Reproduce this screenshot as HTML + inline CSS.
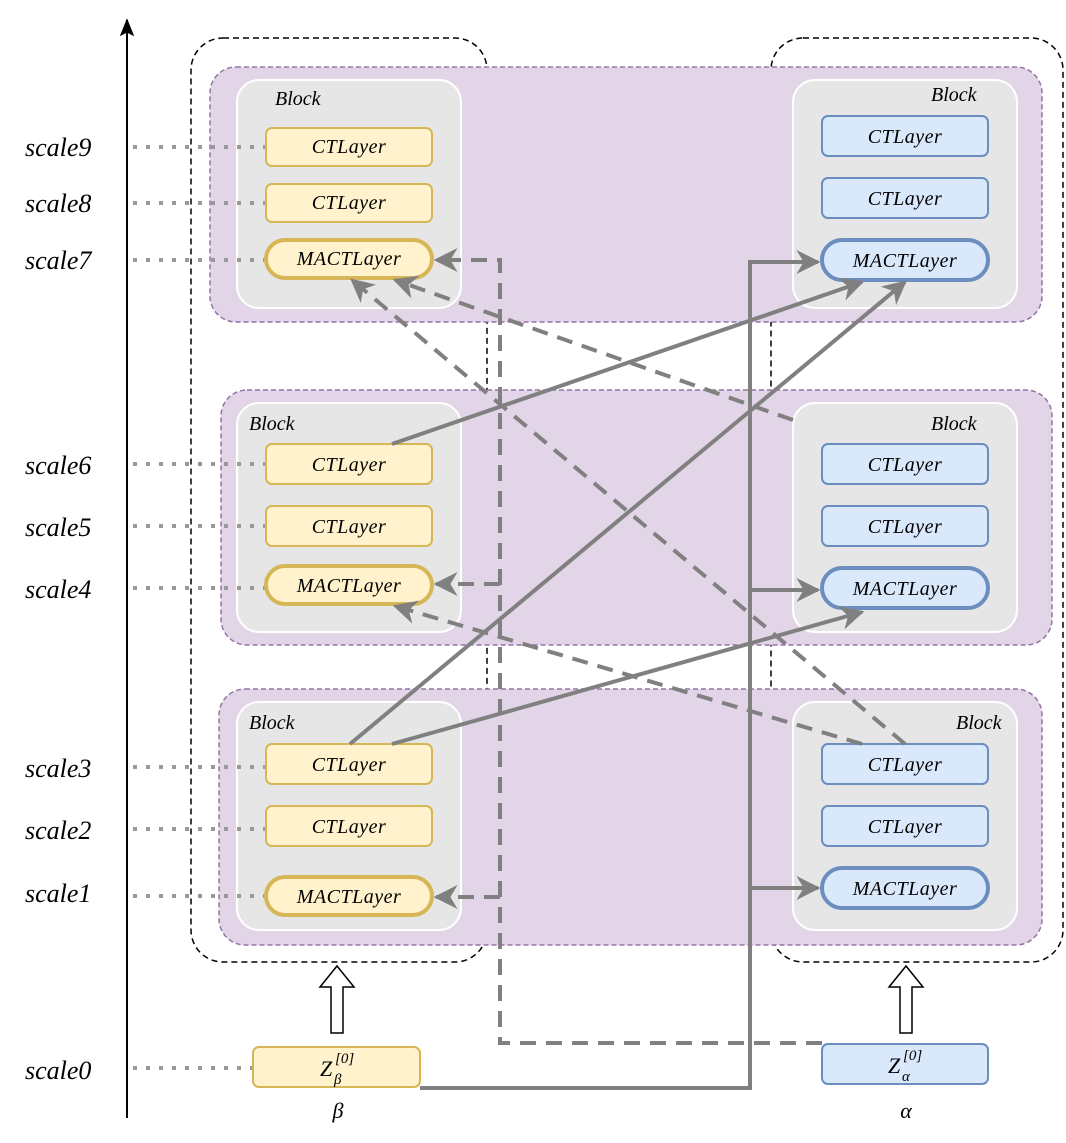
<!DOCTYPE html>
<html><head><meta charset="utf-8"><style>
html,body{margin:0;padding:0;background:#fff}
text{font-family:"Liberation Serif",serif;font-style:italic}
</style></head><body>
<svg width="1066" height="1138" viewBox="0 0 1066 1138" xmlns="http://www.w3.org/2000/svg">
<defs>
<marker id="a" viewBox="0 0 10 10" refX="9" refY="5" markerWidth="6" markerHeight="6" orient="auto" markerUnits="strokeWidth">
<path d="M0,0 L10,5 L0,10 L3,5 Z" fill="#808080"/></marker>
<marker id="k" viewBox="0 0 10 10" refX="9" refY="5" markerWidth="9" markerHeight="9" orient="auto">
<path d="M0,1 L10,5 L0,9 L2,5 Z" fill="#000"/></marker>
</defs>
<line x1="127" y1="1118" x2="127" y2="20" stroke="#000" stroke-width="2" marker-end="url(#k)"/>
<rect x="191" y="38" width="296" height="924" rx="32" fill="none" stroke="#000" stroke-width="1.5" stroke-dasharray="6,4"/>
<rect x="771" y="38" width="292" height="924" rx="32" fill="none" stroke="#000" stroke-width="1.5" stroke-dasharray="6,4"/>
<rect x="210" y="67" width="832" height="255" rx="26" fill="#e1d5e7" stroke="#9673a6" stroke-width="1.5" stroke-dasharray="5,3"/>
<rect x="221" y="390" width="831" height="255" rx="26" fill="#e1d5e7" stroke="#9673a6" stroke-width="1.5" stroke-dasharray="5,3"/>
<rect x="219" y="689" width="823" height="256" rx="26" fill="#e1d5e7" stroke="#9673a6" stroke-width="1.5" stroke-dasharray="5,3"/>
<g fill="#e6e6e6" stroke="#fff" stroke-width="2">
<rect x="237" y="80" width="224" height="228" rx="22"/>
<rect x="237" y="403" width="224" height="229" rx="22"/>
<rect x="237" y="702" width="224" height="228" rx="22"/>
<rect x="793" y="80" width="224" height="228" rx="22"/>
<rect x="793" y="403" width="224" height="229" rx="22"/>
<rect x="793" y="702" width="224" height="228" rx="22"/>
</g>
<g font-size="20" fill="#000">
<text x="275" y="105">Block</text>
<text x="931" y="101">Block</text>
<text x="249" y="430">Block</text>
<text x="931" y="430">Block</text>
<text x="249" y="729">Block</text>
<text x="956" y="729">Block</text>
</g>
<g stroke="#999" stroke-width="4" stroke-dasharray="4,9">
<line x1="133" y1="147" x2="266" y2="147"/>
<line x1="133" y1="203" x2="266" y2="203"/>
<line x1="133" y1="260" x2="266" y2="260"/>
<line x1="133" y1="464" x2="266" y2="464"/>
<line x1="133" y1="526" x2="266" y2="526"/>
<line x1="133" y1="588" x2="266" y2="588"/>
<line x1="133" y1="767" x2="266" y2="767"/>
<line x1="133" y1="829" x2="266" y2="829"/>
<line x1="133" y1="896" x2="266" y2="896"/>
<line x1="133" y1="1068" x2="253" y2="1068"/>
</g>
<g font-size="26" fill="#000">
<text x="25" y="156">scale9</text>
<text x="25" y="212">scale8</text>
<text x="25" y="269">scale7</text>
<text x="25" y="474">scale6</text>
<text x="25" y="536">scale5</text>
<text x="25" y="598">scale4</text>
<text x="25" y="777">scale3</text>
<text x="25" y="839">scale2</text>
<text x="25" y="902">scale1</text>
<text x="25" y="1079">scale0</text>
</g>
<g fill="#fff2cc" stroke="#d6b656" stroke-width="2">
<rect x="266" y="128" width="166" height="38" rx="6"/>
<rect x="266" y="184" width="166" height="38" rx="6"/>
<rect x="266" y="444" width="166" height="40" rx="6"/>
<rect x="266" y="506" width="166" height="40" rx="6"/>
<rect x="266" y="744" width="166" height="40" rx="6"/>
<rect x="266" y="806" width="166" height="40" rx="6"/>
<rect x="253" y="1047" width="167" height="40" rx="6"/>
</g>
<g fill="#fff2cc" stroke="#d6b656" stroke-width="4">
<rect x="266" y="240" width="166" height="38" rx="19"/>
<rect x="266" y="566" width="166" height="38" rx="19"/>
<rect x="266" y="877" width="166" height="38" rx="19"/>
</g>
<g fill="#dae8fc" stroke="#6c8ebf" stroke-width="2">
<rect x="822" y="116" width="166" height="40" rx="6"/>
<rect x="822" y="178" width="166" height="40" rx="6"/>
<rect x="822" y="444" width="166" height="40" rx="6"/>
<rect x="822" y="506" width="166" height="40" rx="6"/>
<rect x="822" y="744" width="166" height="40" rx="6"/>
<rect x="822" y="806" width="166" height="40" rx="6"/>
<rect x="822" y="1044" width="166" height="40" rx="6"/>
</g>
<g fill="#dae8fc" stroke="#6c8ebf" stroke-width="4">
<rect x="822" y="240" width="166" height="40" rx="20"/>
<rect x="822" y="568" width="166" height="40" rx="20"/>
<rect x="822" y="868" width="166" height="40" rx="20"/>
</g>
<g font-size="20" fill="#000" text-anchor="middle" letter-spacing="0.5">
<text x="349" y="153">CTLayer</text>
<text x="349" y="209">CTLayer</text>
<text x="349" y="265">MACTLayer</text>
<text x="349" y="471">CTLayer</text>
<text x="349" y="533">CTLayer</text>
<text x="349" y="592">MACTLayer</text>
<text x="349" y="771">CTLayer</text>
<text x="349" y="833">CTLayer</text>
<text x="349" y="903">MACTLayer</text>
<text x="905" y="143">CTLayer</text>
<text x="905" y="205">CTLayer</text>
<text x="905" y="267">MACTLayer</text>
<text x="905" y="471">CTLayer</text>
<text x="905" y="533">CTLayer</text>
<text x="905" y="595">MACTLayer</text>
<text x="905" y="771">CTLayer</text>
<text x="905" y="833">CTLayer</text>
<text x="905" y="895">MACTLayer</text>
</g>
<g fill="#000">
<text x="320" y="1076" font-size="22">Z</text>
<text x="335" y="1063" font-size="15" font-style="normal">[0]</text>
<text x="334" y="1084" font-size="15">β</text>
<text x="888" y="1073" font-size="22">Z</text>
<text x="903" y="1060" font-size="15" font-style="normal">[0]</text>
<text x="902" y="1081" font-size="15">α</text>
<text x="338" y="1118" font-size="22" text-anchor="middle">β</text>
<text x="906" y="1118" font-size="22" text-anchor="middle">α</text>
</g>
<g fill="#fff" stroke="#000" stroke-width="1.5">
<path d="M331,1033 L343,1033 L343,987 L354,987 L337,966 L320,987 L331,987 Z"/>
<path d="M900,1033 L912,1033 L912,987 L923,987 L906,966 L889,987 L900,987 Z"/>
</g>
<g stroke="#808080" stroke-width="4" fill="none">
<polyline points="420,1088 750,1088 750,262 818,262" marker-end="url(#a)"/>
<line x1="750" y1="590" x2="818" y2="590" marker-end="url(#a)"/>
<line x1="750" y1="888" x2="818" y2="888" marker-end="url(#a)"/>
<line x1="392" y1="444" x2="862" y2="282" marker-end="url(#a)"/>
<line x1="350" y1="744" x2="905" y2="282" marker-end="url(#a)"/>
<line x1="392" y1="744" x2="862" y2="612" marker-end="url(#a)"/>
</g>
<g stroke="#808080" stroke-width="4" fill="none" stroke-dasharray="16,10">
<polyline points="822,1043 500,1043 500,260 436,260" marker-end="url(#a)"/>
<line x1="500" y1="584" x2="436" y2="584" marker-end="url(#a)"/>
<line x1="500" y1="897" x2="436" y2="897" marker-end="url(#a)"/>
<line x1="905" y1="744" x2="352" y2="280" marker-end="url(#a)"/>
<line x1="862" y1="744" x2="395" y2="606" marker-end="url(#a)"/>
<line x1="793" y1="420" x2="395" y2="280" marker-end="url(#a)"/>
</g>
</svg>
</body></html>
